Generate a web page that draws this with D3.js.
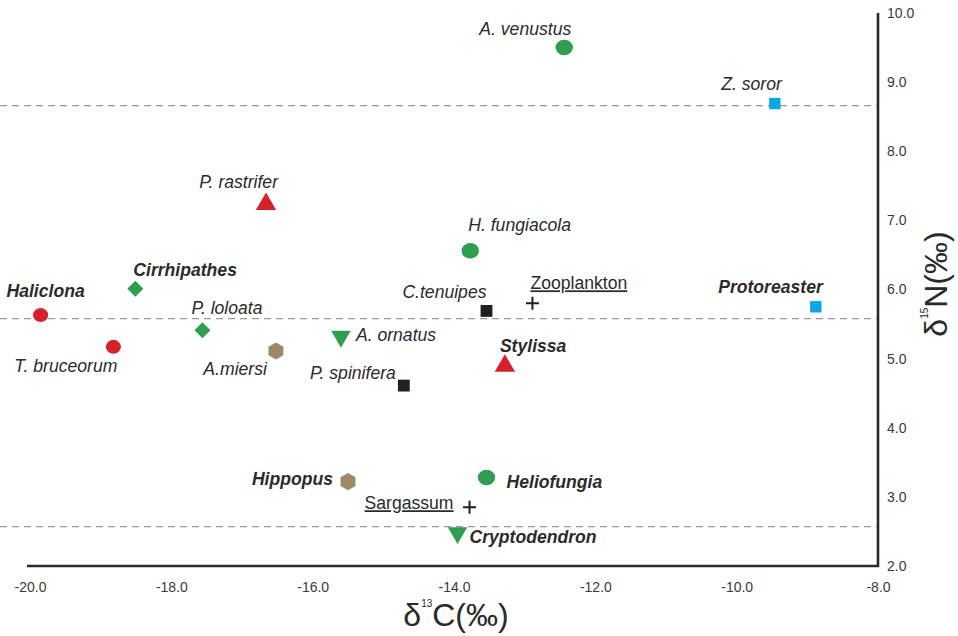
<!DOCTYPE html>
<html>
<head>
<meta charset="utf-8">
<script src="https://cdn.jsdelivr.net/npm/d3@7"></script>
<style>
  html, body { margin: 0; padding: 0; background: #fff; }
  svg { display: block; }
  text { font-family: "Liberation Sans", Arial, sans-serif; }
</style>
</head>
<body>
<svg id="chart" width="958" height="636"></svg>
<script>
// ---------------- DATA ----------------
const names = ["A. venustus", "Z. soror", "P. rastrifer", "H. fungiacola", "Cirrhipathes",
  "Haliclona", "P. loloata", "T. bruceorum", "A.miersi", "A. ornatus", "P. spinifera",
  "C.tenuipes", "Zooplankton", "Stylissa", "Protoreaster", "Hippopus", "Heliofungia",
  "Sargassum", "Cryptodendron"];
const d13C = [-12.44, -9.46, -16.66, -13.77, -18.51, -19.85, -17.56, -18.82, -16.52, -15.60,
  -14.71, -13.54, -12.89, -13.28, -8.88, -15.50, -13.54, -13.78, -13.95];
const d15N = [9.50, 8.69, 7.22, 6.56, 6.01, 5.63, 5.41, 5.17, 5.11, 5.32,
  4.61, 5.69, 5.80, 4.88, 5.75, 3.22, 3.28, 2.85, 2.48];
// group of each item (marker type)
const groups = ["coralFish", "starFish", "spongeShrimp", "coralFish", "whipCoral",
  "sponge", "whipCoral", "sponge", "clamCrab", "anemoneFish", "starPipefish",
  "starPipefish", "source", "spongeShrimp", "starFish", "clamCrab", "coralFish",
  "source", "anemoneFish"];
// kind of name: host genus, associated species, or food source
const kinds = ["species", "species", "species", "species", "host",
  "host", "species", "species", "species", "species", "species",
  "species", "source", "host", "host", "host", "host",
  "source", "host"];
const xTicks = [-20, -18, -16, -14, -12, -10, -8];
const yTicks = [2, 3, 4, 5, 6, 7, 8, 9, 10];
const refLevels = [8.66, 5.58, 2.57];

// ---------------- LAYOUT / STYLE ----------------
// label placement: [anchor, dx, dy] relative to marker
const labelPos = [
  ["end", 7, -12.7], ["end", 7, -14], ["end", 12, -17], ["start", -2, -20], ["start", -2, -13],
  ["middle", 5, -18], ["start", -11, -16], ["end", 4, 25], ["end", -9, 24], ["start", 15, 4],
  ["end", -8, -7], ["end", 0, -13], ["start", -2, -14], ["start", -5, -15], ["end", 7, -14],
  ["end", -15, 3], ["start", 20, 10], ["end", -16, 2], ["start", 12, 10]
];
const GREEN = "#2f9e50", RED = "#d3222a", BLUE = "#0ba6e6", TAN = "#9e8866", BLACK = "#231f20";

const fmt = d3.formatLocale({decimal: ".", thousands: ",", grouping: [3], currency: ["", ""], minus: "-"}).format(".1f");

const svg = d3.select("#chart");
const x = d3.scaleLinear().domain([-20, -8]).range([30, 878]);
const y = d3.scaleLinear().domain([2, 10]).range([566, 13]);

// reference dashed lines
svg.append("g").selectAll("line").data(refLevels).join("line")
  .attr("x1", 0).attr("x2", x(-8))
  .attr("y1", d => y(d)).attr("y2", d => y(d))
  .attr("stroke", "#9a9a9a").attr("stroke-width", 1.3)
  .attr("stroke-dasharray", "7,5");

// axes
const xAxis = svg.append("g").attr("transform", `translate(0,${y(2)})`)
  .call(d3.axisBottom(x).tickValues(xTicks).tickFormat(fmt).tickSize(0).tickPadding(16));
const yAxis = svg.append("g").attr("transform", `translate(${x(-8)},0)`)
  .call(d3.axisRight(y).tickValues(yTicks).tickFormat(fmt).tickSize(0).tickPadding(9));
[xAxis, yAxis].forEach(g => {
  g.select(".domain").remove();
  g.selectAll("text").attr("font-size", 14).attr("fill", "#3a3a3a")
    .attr("font-family", "Liberation Sans, Arial, sans-serif");
});
svg.append("path")
  .attr("d", `M${x(-20) - 3},${y(2)}H${x(-8)}V${y(10)}`)
  .attr("fill", "none").attr("stroke", "#2a2a2a").attr("stroke-width", 2.6);

// axis titles
const xt = svg.append("text").attr("x", 456).attr("y", 626).attr("text-anchor", "middle")
  .attr("font-size", 32).attr("fill", "#2a2a2a")
  .style("font-family", "'Liberation Sans Narrow', 'Arial Narrow', 'Liberation Sans', sans-serif");
xt.append("tspan").text("δ");
xt.append("tspan").attr("font-size", 10).attr("dy", -19).text("13");
xt.append("tspan").attr("dy", 19).text("C(‰)");

const yt = svg.append("text").attr("transform", "translate(947,284) rotate(-90)")
  .attr("text-anchor", "middle").attr("font-size", 32).attr("fill", "#2a2a2a")
  .style("font-family", "'Liberation Sans Narrow', 'Arial Narrow', 'Liberation Sans', sans-serif");
yt.append("tspan").text("δ");
yt.append("tspan").attr("font-size", 10).attr("dy", -19).text("15");
yt.append("tspan").attr("dy", 19).text("N(‰)");

// marker drawing
const hexPath = r => {
  const pts = d3.range(6).map(i => {
    const a = Math.PI / 3 * i - Math.PI / 2;
    return [r * Math.cos(a), r * Math.sin(a)];
  });
  return "M" + pts.map(p => p.join(",")).join("L") + "Z";
};
const markerStyles = {
  coralFish:    g => g.append("ellipse").attr("rx", 8.7).attr("ry", 7.8).attr("fill", GREEN),
  sponge:       g => g.append("ellipse").attr("rx", 7.6).attr("ry", 7).attr("fill", RED),
  whipCoral:    g => g.append("path").attr("d", d3.symbol(d3.symbolSquare, 128)()).attr("transform", "rotate(45)").attr("fill", GREEN),
  spongeShrimp: g => g.append("path").attr("d", d3.symbol(d3.symbolTriangle, 180)()).attr("transform", "translate(0,-1)").attr("fill", RED),
  anemoneFish:  g => g.append("path").attr("d", d3.symbol(d3.symbolTriangle, 165)()).attr("transform", "rotate(180)").attr("fill", GREEN),
  clamCrab:     g => g.append("path").attr("d", hexPath(8.6)).attr("fill", TAN),
  starPipefish: g => g.append("path").attr("d", d3.symbol(d3.symbolSquare, 140)()).attr("fill", BLACK),
  starFish:     g => g.append("path").attr("d", d3.symbol(d3.symbolSquare, 130)()).attr("fill", BLUE),
  source:       g => g.append("path").attr("d", "M-6.5,0H6.5M0,-6.5V6.5").attr("stroke", BLACK).attr("stroke-width", 2).attr("fill", "none")
};

const idx = d3.range(names.length);
const pts = svg.append("g").selectAll("g").data(idx).join("g")
  .attr("transform", i => `translate(${x(d13C[i])},${y(d15N[i])})`);
pts.each(function (i) { markerStyles[groups[i]](d3.select(this)); });

// labels
svg.append("g").selectAll("text").data(idx).join("text")
  .attr("x", i => x(d13C[i]) + labelPos[i][1])
  .attr("y", i => y(d15N[i]) + labelPos[i][2])
  .attr("text-anchor", i => labelPos[i][0])
  .attr("font-size", 17.6)
  .attr("fill", "#2b2b2b")
  .attr("font-style", i => kinds[i] === "source" ? "normal" : "italic")
  .attr("font-weight", i => kinds[i] === "host" ? "bold" : "normal")
  .attr("text-decoration", i => kinds[i] === "source" ? "underline" : "none")
  .text(i => names[i]);
</script>
</body>
</html>
